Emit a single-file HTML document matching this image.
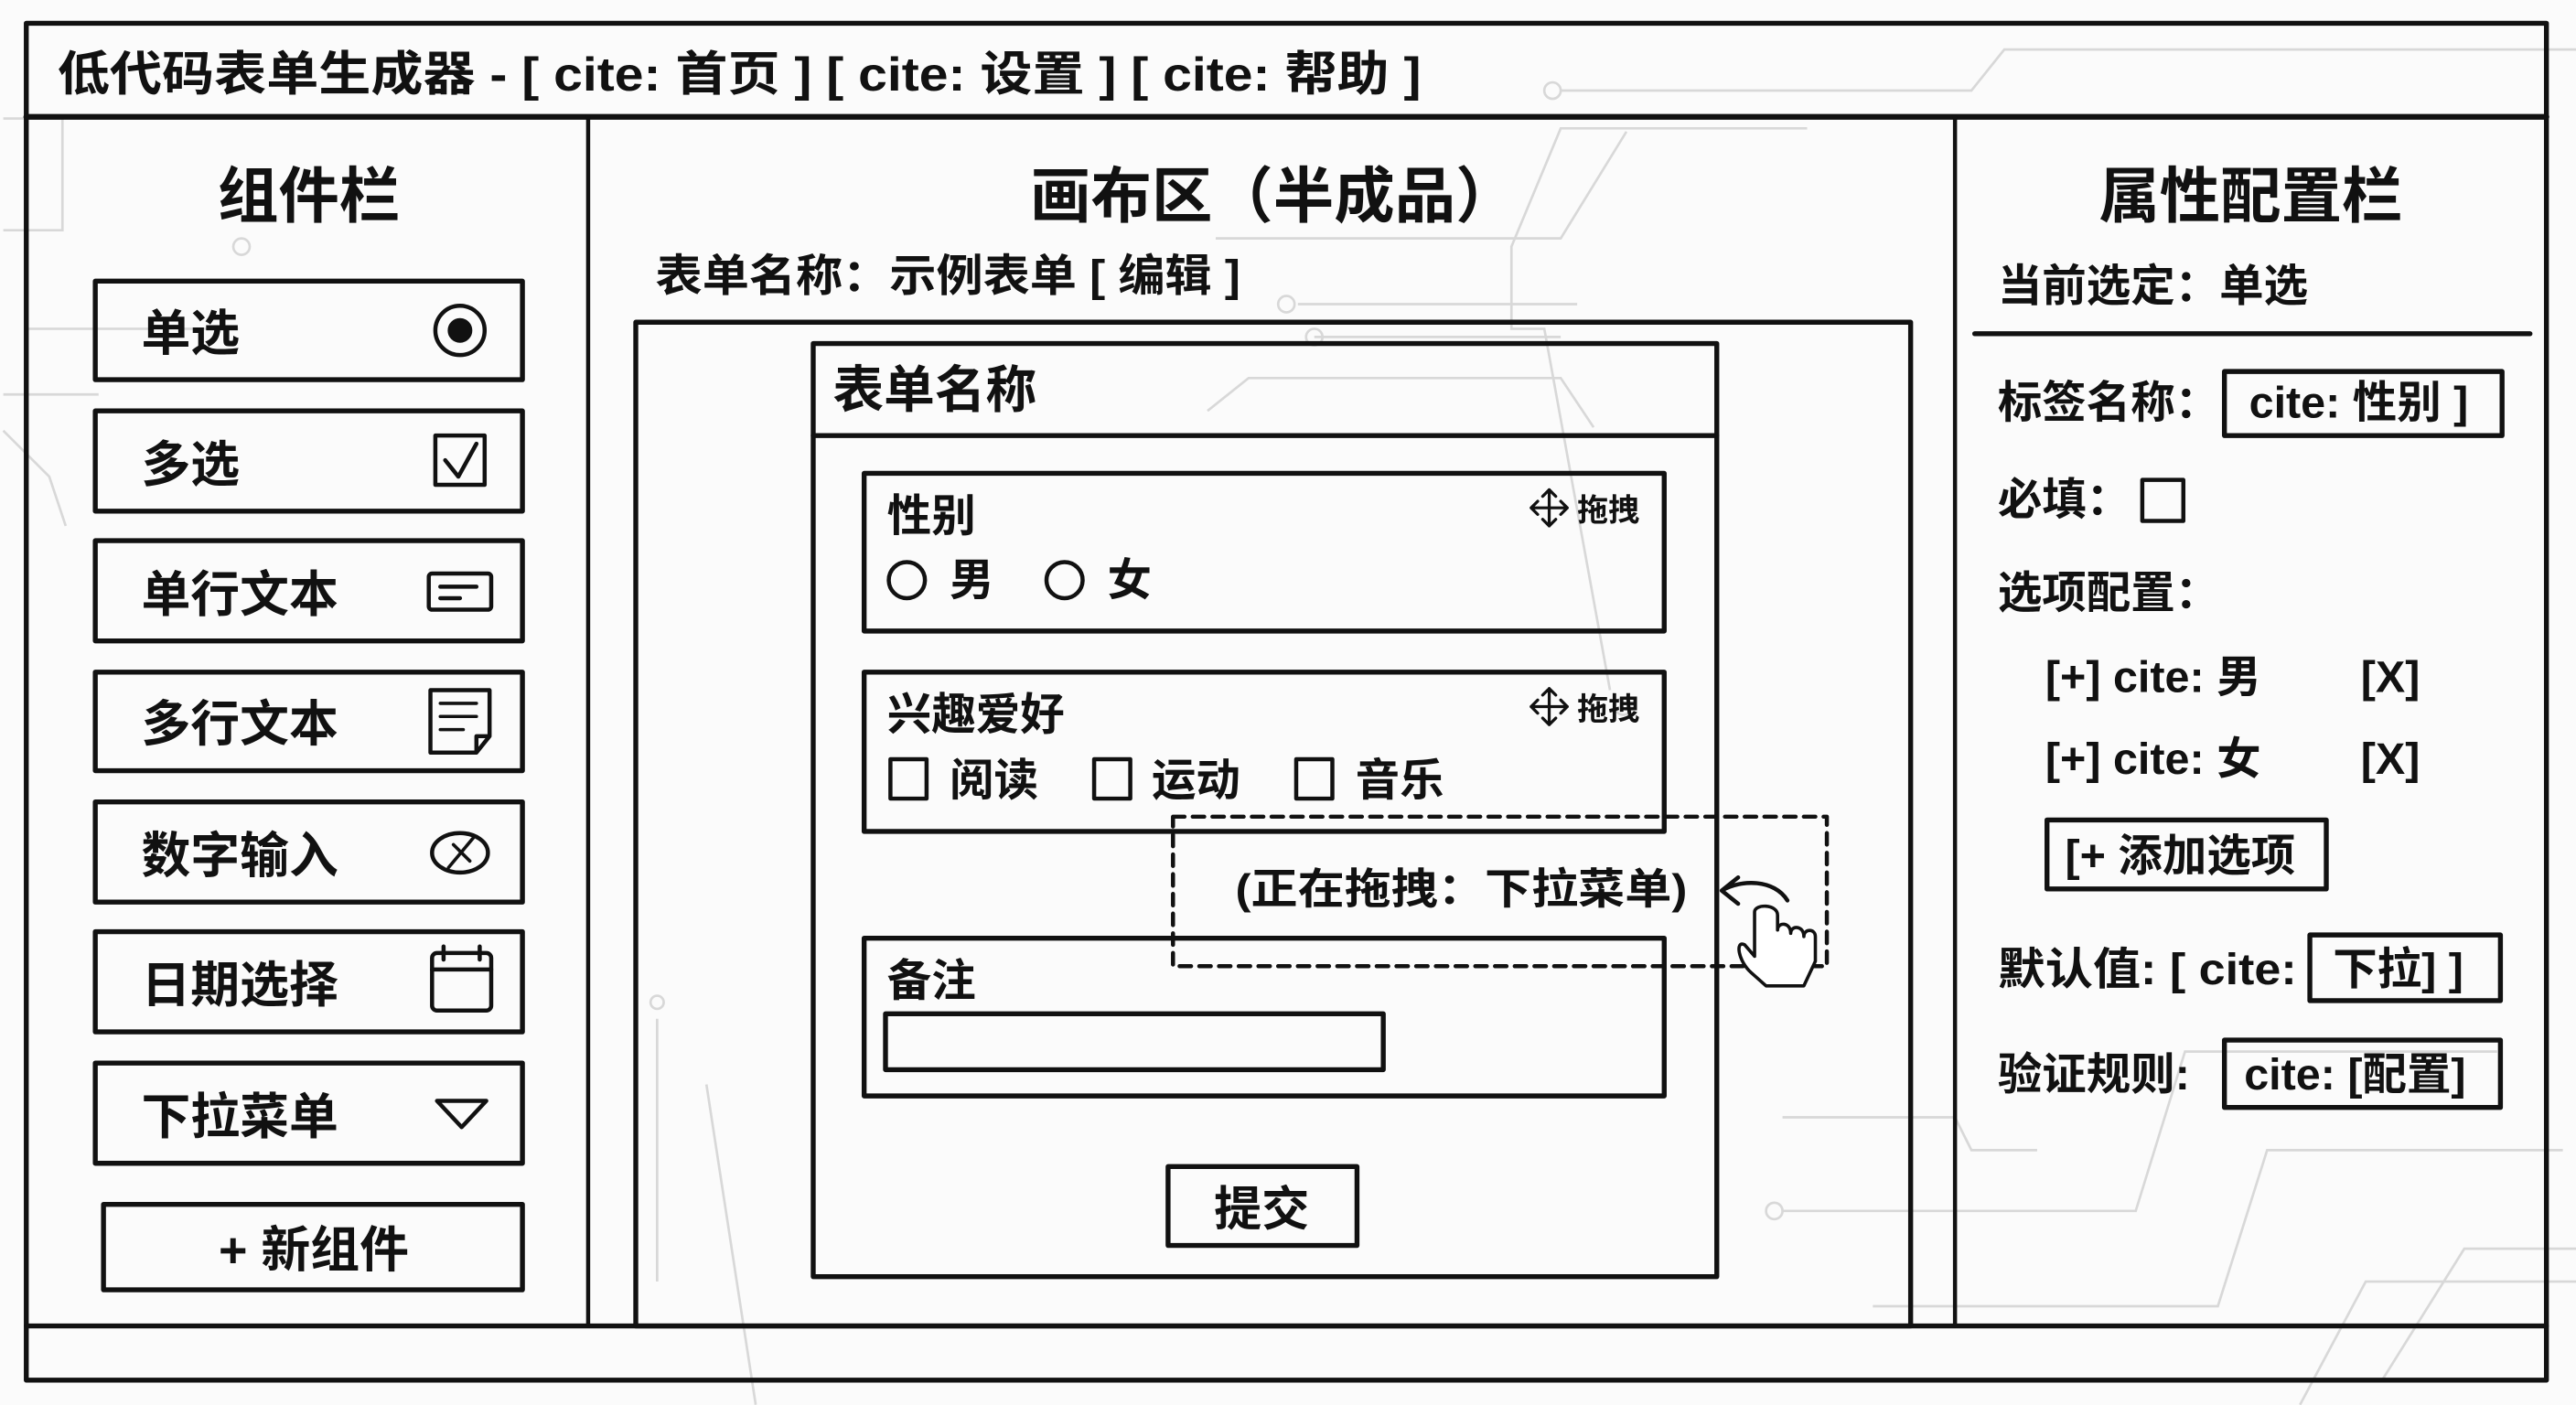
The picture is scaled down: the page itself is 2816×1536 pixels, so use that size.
<!DOCTYPE html>
<html><head><meta charset="utf-8"><style>
html,body{margin:0;padding:0;background:#fbfbfb;}
svg{display:block;}
text{font-family:"Liberation Sans","Noto Sans CJK SC",sans-serif;font-weight:bold;fill:#111;}
</style></head><body>
<svg width="2816" height="1536" viewBox="0 0 1568 855" xmlns="http://www.w3.org/2000/svg">
<rect x="0" y="0" width="1568" height="855" fill="#fbfbfb"/>
<g stroke="#d8d8d8" stroke-width="1.5" fill="none">
<path d="M2 72 H38 V140 H2"/><path d="M15 200 H145"/><circle cx="147" cy="150" r="5"/>
<path d="M2 240 H60"/><path d="M2 262 L30 290 L40 320"/>
<path d="M1590 30 H1220 L1200 55 H950"/><circle cx="945" cy="55" r="5"/>
<path d="M1100 78 H950 L920 150 V200 H940 L980 420"/><circle cx="988" cy="430" r="5"/>
<path d="M740 145 H950 L990 80"/><path d="M960 185 H790"/><circle cx="783" cy="185" r="5"/>
<path d="M950 205 H800"/><circle cx="800" cy="205" r="5"/><path d="M735 250 L760 230 H950 L970 260"/>
<path d="M1085 680 H1190 L1200 700 H1240"/><circle cx="1080" cy="737" r="5"/>
<path d="M1085 737 H1300 L1330 640 H1520"/><path d="M1140 795 H1350 L1380 700 H1560"/>
<path d="M1450 840 L1500 760 H1568"/><path d="M1400 855 L1440 780 H1568"/>
<path d="M400 620 V780"/><path d="M430 660 L460 855"/><circle cx="400" cy="610" r="4"/>
</g>
<g fill="none" stroke="#111" stroke-linecap="round" stroke-linejoin="round">
<rect x="16" y="14" width="1534" height="826" stroke-width="3"/>
<line x1="16" y1="71" x2="1550" y2="71" stroke-width="3.5"/>
<line x1="16" y1="807" x2="1550" y2="807" stroke-width="3"/>
<line x1="358" y1="71" x2="358" y2="807" stroke-width="2.5"/>
<line x1="1190" y1="71" x2="1190" y2="807" stroke-width="2.5"/>
<g stroke-width="3">
<rect x="58" y="171" width="260" height="60"/>
<rect x="58" y="250" width="260" height="61"/>
<rect x="58" y="329" width="260" height="61"/>
<rect x="58" y="409" width="260" height="60"/>
<rect x="58" y="488" width="260" height="61"/>
<rect x="58" y="567" width="260" height="61"/>
<rect x="58" y="647" width="260" height="61"/>
<rect x="63" y="733" width="255" height="52"/>
</g>
<circle cx="280" cy="201" r="15" stroke-width="2.5"/><circle cx="280" cy="201" r="7" fill="#111"/>
<rect x="265" y="265" width="30" height="30" stroke-width="2.5"/><path d="M271 280 L279 290 L290 270" stroke-width="2.5"/>
<rect x="261" y="349" width="38" height="22" rx="2" stroke-width="2.5"/><path d="M268 357 H290 M268 364 H280" stroke-width="2.5"/>
<path d="M262 420 H298 V448 L290 458 H262 Z M290 458 V448 H298" stroke-width="2.5"/><path d="M268 428 H290 M268 436 H290 M268 444 H282" stroke-width="2"/>
<ellipse cx="280" cy="519" rx="17" ry="12" stroke-width="2.5"/><path d="M273 528 L288 510 M276 514 L286 524" stroke-width="2"/>
<rect x="263" y="580" width="36" height="35" rx="3" stroke-width="2.5"/><path d="M263 590 H299 M270 576 V584 M292 576 V584" stroke-width="2.5"/>
<path d="M266 670 H296 L281 686 Z" stroke-width="2.5"/>
<rect x="387" y="196" width="776" height="611" stroke-width="3"/>
<rect x="495" y="209" width="550" height="568" stroke-width="3"/>
<line x1="495" y1="265" x2="1045" y2="265" stroke-width="3"/>
<rect x="526" y="288" width="487" height="96" stroke-width="3"/>
<circle cx="552" cy="353" r="11" stroke-width="2.5"/><circle cx="648" cy="353" r="11" stroke-width="2.5"/>
<rect x="526" y="409" width="487" height="97" stroke-width="3"/>
<rect x="542" y="462" width="22" height="24" stroke-width="2.5"/><rect x="666" y="462" width="22" height="24" stroke-width="2.5"/><rect x="789" y="462" width="22" height="24" stroke-width="2.5"/>
<rect x="526" y="571" width="487" height="96" stroke-width="3"/>
<rect x="539" y="617" width="303" height="34" stroke-width="3"/>
<rect x="711" y="710" width="115" height="48" stroke-width="3"/>
<g stroke-width="1.8"><path d="M943 298 V320 M932 309 H954 M939 302 L943 298 L947 302 M939 316 L943 320 L947 316 M936 305 L932 309 L936 313 M950 305 L954 309 L950 313"/>
<path d="M943 419 V441 M932 430 H954 M939 423 L943 419 L947 423 M939 437 L943 441 L947 437 M936 426 L932 430 L936 434 M950 426 L954 430 L950 434"/></g>
<rect x="714" y="497" width="398" height="91" stroke-width="2.5" stroke-dasharray="7,5"/>
<path d="M1088 548 C1080 535 1060 535 1048 542 M1048 542 L1058 534 M1048 542 L1058 550" stroke-width="2.5"/>
<path d="M1068 555 V582 L1062 575 C1056 572 1058 585 1066 592 L1075 600 H1098 L1105 585 V570 C1105 565 1098 565 1098 570 C1098 563 1090 563 1090 568 C1090 561 1082 561 1082 566 V557 C1082 550 1068 550 1068 555 Z" stroke-width="2" fill="#fff"/>
<line x1="1202" y1="203" x2="1540" y2="203" stroke-width="3"/>
<rect x="1354" y="226" width="169" height="39" stroke-width="3"/>
<rect x="1304" y="292" width="25" height="25" stroke-width="2.5"/>
<rect x="1246" y="499" width="170" height="42" stroke-width="3"/>
<rect x="1406" y="569" width="116" height="40" stroke-width="3"/>
<rect x="1354" y="633" width="168" height="41" stroke-width="3"/>
</g>
<text x="35" y="55" font-size="29" textLength="830" lengthAdjust="spacingAndGlyphs">低代码表单生成器 - [ cite: 首页 ] [ cite: 设置 ] [ cite: 帮助 ]</text>
<text x="188" y="132" font-size="37" text-anchor="middle">组件栏</text>
<g font-size="30">
<text x="86" y="213">单选</text><text x="86" y="293">多选</text><text x="86" y="372">单行文本</text>
<text x="86" y="451">多行文本</text><text x="86" y="531">数字输入</text><text x="86" y="610">日期选择</text>
<text x="86" y="690">下拉菜单</text><text x="191" y="771" text-anchor="middle">+ 新组件</text>
</g>
<text x="775" y="132" font-size="37" text-anchor="middle">画布区（半成品）</text>
<text x="399" y="177" font-size="27" textLength="356" lengthAdjust="spacingAndGlyphs">表单名称：示例表单 [ 编辑 ]</text>
<text x="507" y="248" font-size="31">表单名称</text>
<text x="540" y="323" font-size="27">性别</text>
<text x="578" y="362" font-size="27">男</text><text x="674" y="362" font-size="27">女</text>
<text x="960" y="317" font-size="19">拖拽</text><text x="960" y="438" font-size="19">拖拽</text>
<text x="540" y="444" font-size="27">兴趣爱好</text>
<text x="578" y="484" font-size="27">阅读</text><text x="701" y="484" font-size="27">运动</text><text x="825" y="484" font-size="27">音乐</text>
<text x="752" y="550" font-size="26" textLength="275" lengthAdjust="spacingAndGlyphs">(正在拖拽：下拉菜单)</text>
<text x="540" y="606" font-size="27">备注</text>
<text x="768" y="746" font-size="29" text-anchor="middle">提交</text>
<text x="1370" y="132" font-size="37" text-anchor="middle">属性配置栏</text>
<g font-size="27">
<text x="1216" y="183">当前选定：单选</text>
<text x="1216" y="254">标签名称：</text><text x="1369" y="254">cite: 性别 ]</text>
<text x="1216" y="313">必填：</text>
<text x="1216" y="370">选项配置：</text>
<text x="1245" y="421">[+] cite: 男</text><text x="1437" y="421">[X]</text>
<text x="1245" y="471">[+] cite: 女</text><text x="1437" y="471">[X]</text>
<text x="1257" y="530">[+ 添加选项</text>
<text x="1216" y="599" textLength="182" lengthAdjust="spacingAndGlyphs">默认值: [ cite:</text><text x="1420" y="599">下拉] ]</text>
<text x="1216" y="663">验证规则:</text><text x="1366" y="663">cite: [配置]</text>
</g>
</svg>
</body></html>
